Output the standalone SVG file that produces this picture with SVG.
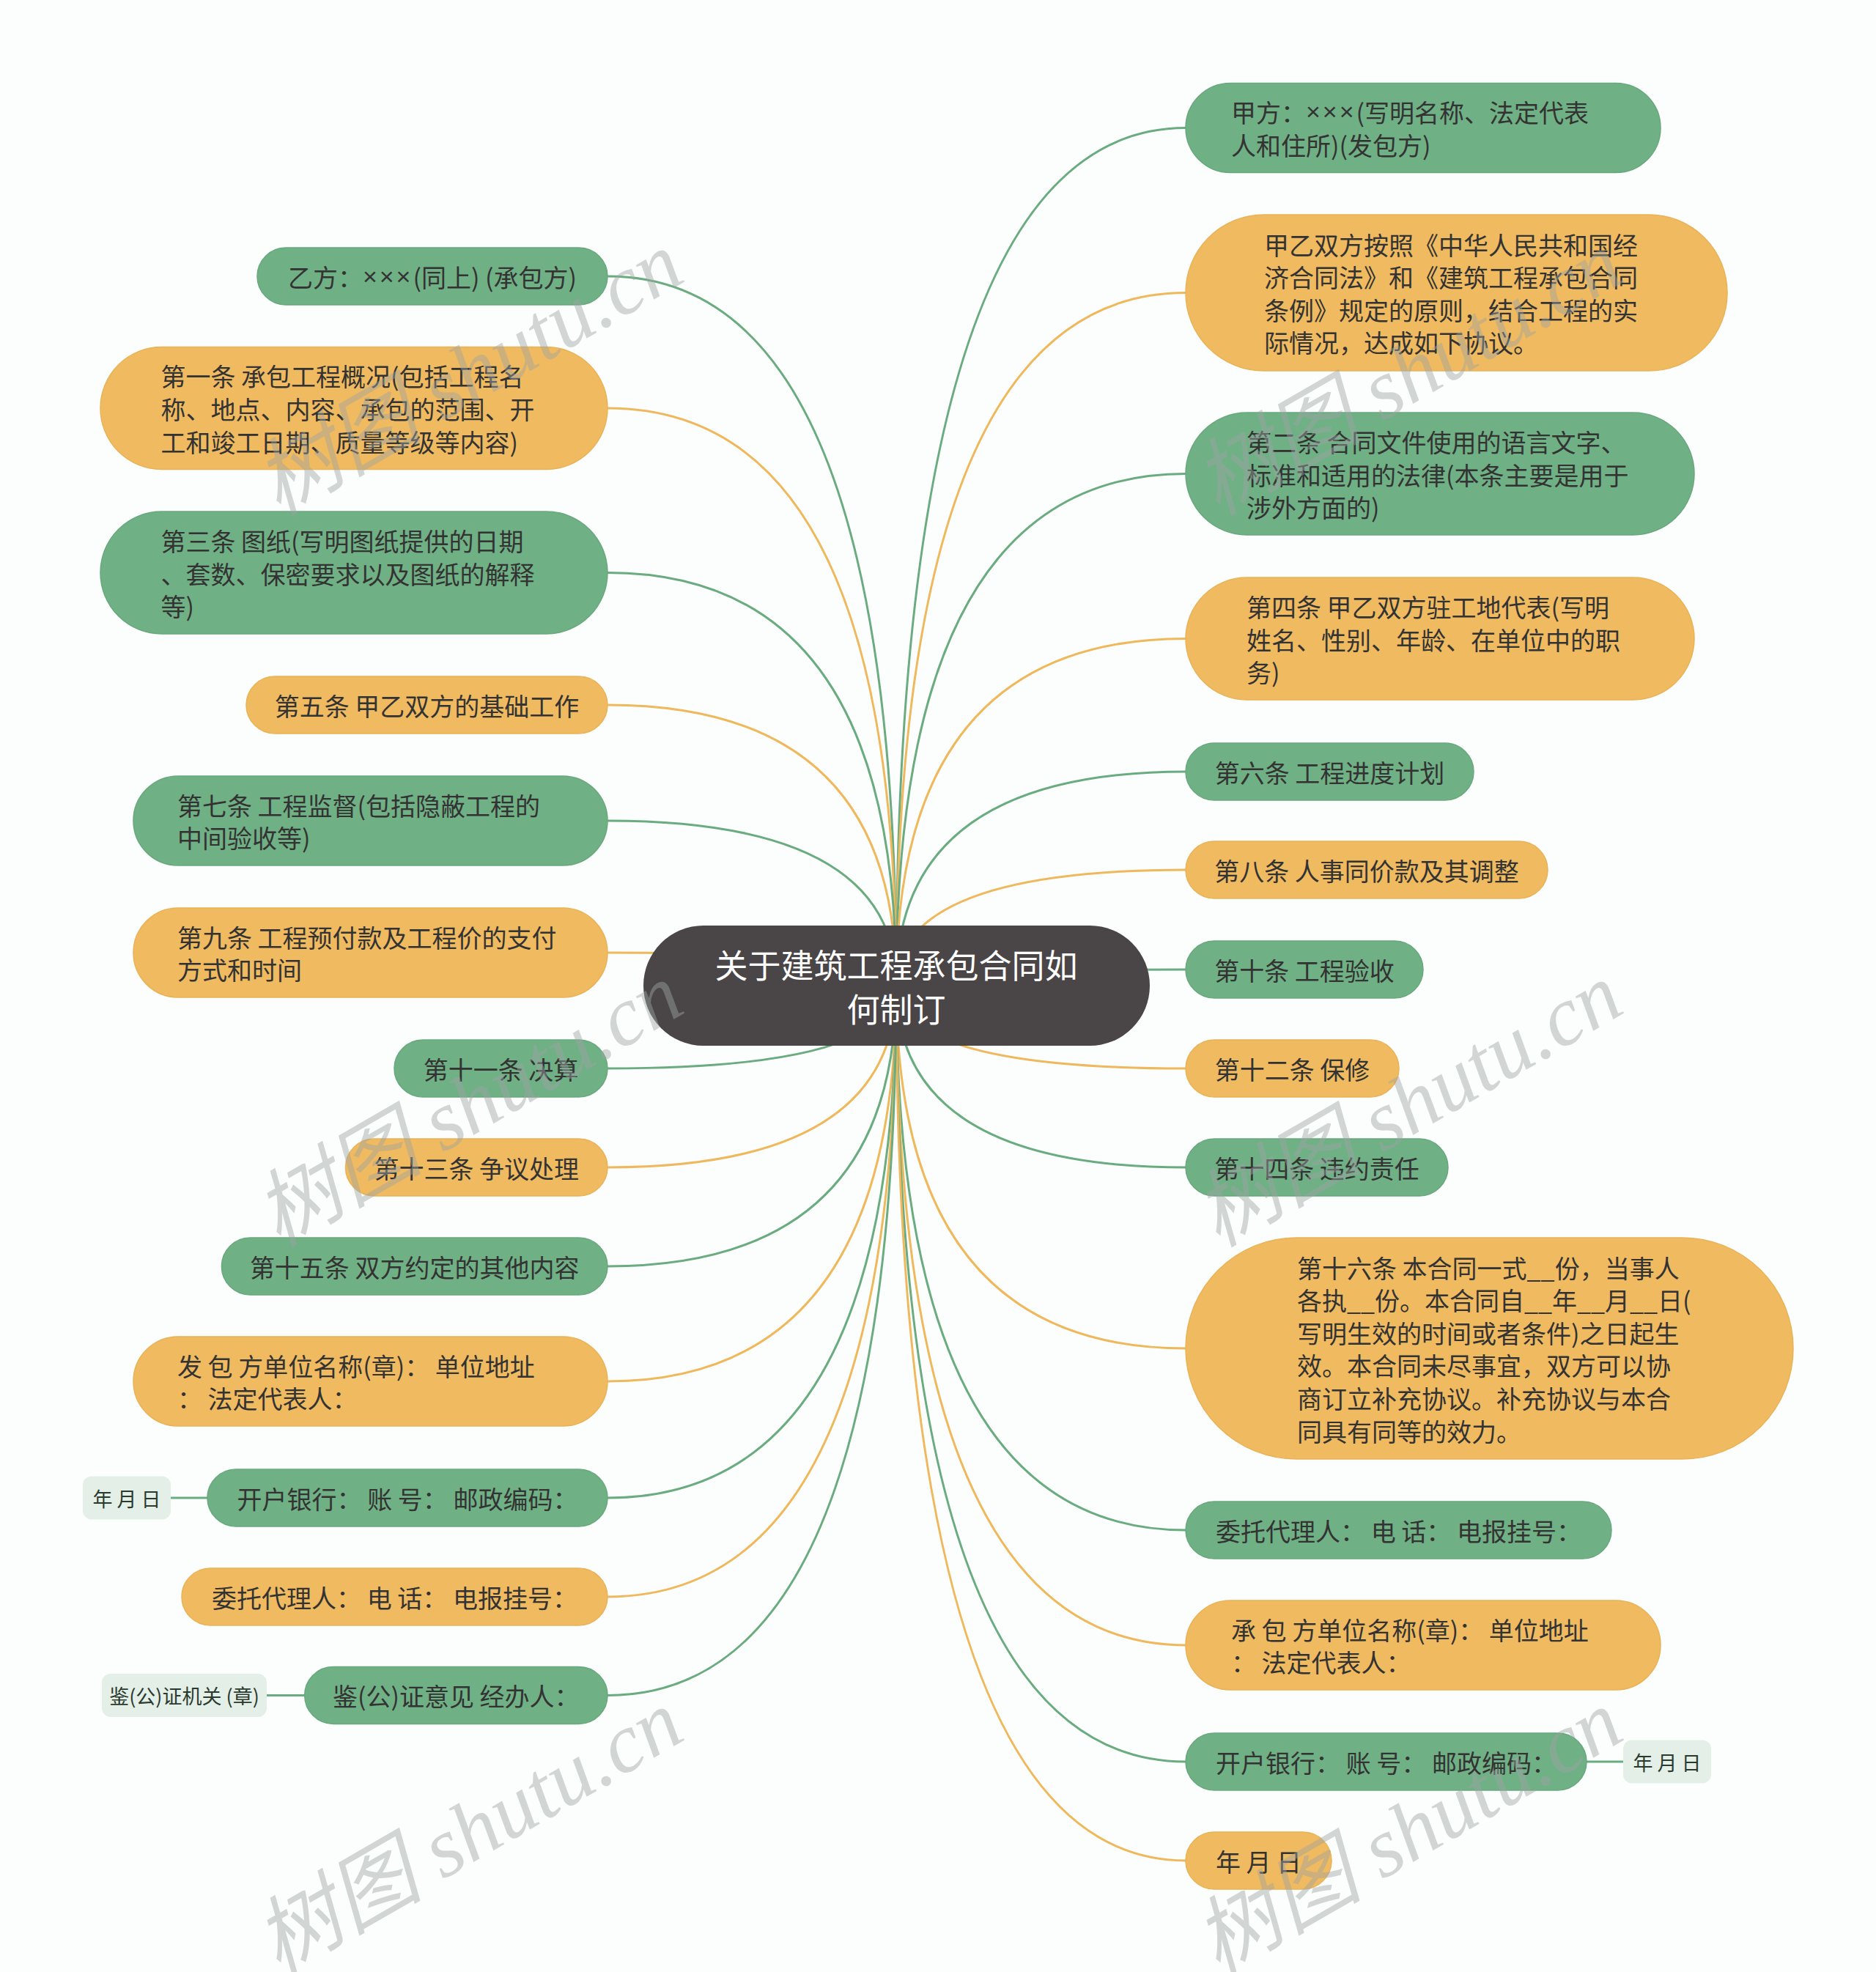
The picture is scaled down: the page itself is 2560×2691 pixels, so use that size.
<svg xmlns="http://www.w3.org/2000/svg" width="2560" height="2691" viewBox="0 0 2560 2691">
<style>
.t{font-family:"Noto Sans CJK SC","Noto Sans",sans-serif;font-size:34px;fill:#333333;dominant-baseline:central}
.m{text-anchor:middle}
.x{font-family:"Liberation Sans",sans-serif;letter-spacing:3px}
.ng{fill:#70b085;stroke:#68a87d;stroke-width:1.5}
.no{fill:#f0ba60;stroke:#eab257;stroke-width:1.5}
.cg{fill:none;stroke:#6aab80;stroke-width:3}
.co{fill:none;stroke:#efb85c;stroke-width:3}
.lf{fill:#e4efe7}
.lt{font-family:"Noto Sans CJK SC","Noto Sans",sans-serif;font-size:27px;fill:#2a3a2f;dominant-baseline:central;text-anchor:middle}
.rt{font-family:"Noto Sans CJK SC","Noto Sans",sans-serif;font-size:45px;fill:#ffffff;dominant-baseline:central;text-anchor:middle}
.wm{font-family:"Liberation Serif","Noto Sans CJK SC",serif;font-size:115px;font-style:italic;fill:#9ea3a3;fill-opacity:0.45;text-anchor:middle;dominant-baseline:central}
</style>
<rect width="2560" height="2691" fill="#fbfefc"/>
<g id="connectors">
<path class="cg" d="M1223,1344 Q1223,174.5 1618,174.5"/>
<path class="co" d="M1223,1344 Q1223,399.5 1618,399.5"/>
<path class="cg" d="M1223,1344 Q1223,646.5 1618,646.5"/>
<path class="co" d="M1223,1344 Q1223,871.5 1618,871.5"/>
<path class="cg" d="M1223,1344 Q1223,1053 1618,1053"/>
<path class="co" d="M1223,1344 Q1223,1187 1618,1187"/>
<path class="cg" d="M1223,1344 Q1223,1323 1618,1323"/>
<path class="co" d="M1223,1344 Q1223,1458 1618,1458"/>
<path class="cg" d="M1223,1344 Q1223,1593 1618,1593"/>
<path class="co" d="M1223,1344 Q1223,1840 1618,1840"/>
<path class="cg" d="M1223,1344 Q1223,2088 1618,2088"/>
<path class="co" d="M1223,1344 Q1223,2245 1618,2245"/>
<path class="cg" d="M1223,1344 Q1223,2404 1618,2404"/>
<path class="co" d="M1223,1344 Q1223,2539 1618,2539"/>
<path class="cg" d="M1223,1344 Q1223,377 829,377"/>
<path class="co" d="M1223,1344 Q1223,557 829,557"/>
<path class="cg" d="M1223,1344 Q1223,781.5 829,781.5"/>
<path class="co" d="M1223,1344 Q1223,962 829,962"/>
<path class="cg" d="M1223,1344 Q1223,1120 829,1120"/>
<path class="co" d="M1223,1344 Q1223,1300 829,1300"/>
<path class="cg" d="M1223,1344 Q1223,1458 829,1458"/>
<path class="co" d="M1223,1344 Q1223,1593 829,1593"/>
<path class="cg" d="M1223,1344 Q1223,1728 829,1728"/>
<path class="co" d="M1223,1344 Q1223,1885 829,1885"/>
<path class="cg" d="M1223,1344 Q1223,2044 829,2044"/>
<path class="co" d="M1223,1344 Q1223,2179 829,2179"/>
<path class="cg" d="M1223,1344 Q1223,2313.5 829,2313.5"/>
<path class="cg" d="M233,2044 L283,2044"/>
<path class="cg" d="M364,2313.5 L415.7,2313.5"/>
<path class="cg" d="M2165,2404 L2215,2404"/>
</g>
<g id="root">
<rect x="878" y="1263" width="691" height="164" rx="82" fill="#4a4546"/>
<text class="rt" x="1223" y="1315">关于建筑工程承包合同如</text>
<text class="rt" x="1223" y="1375">何制订</text>
</g>
<g id="r1"><rect class="ng" x="1618" y="113.5" width="648" height="122" rx="61"/>
<text class="t"><tspan x="1680" y="152.2">甲方：<tspan class="x">×××</tspan>(写明名称、法定代表</tspan><tspan x="1680" y="196.8">人和住所)(发包方)</tspan></text></g>
<g id="r2"><rect class="no" x="1618" y="293" width="739" height="213" rx="106.5"/>
<text class="t"><tspan x="1725" y="332.6">甲乙双方按照《中华人民共和国经</tspan><tspan x="1725" y="377.2">济合同法》和《建筑工程承包合同</tspan><tspan x="1725" y="421.8">条例》规定的原则，结合工程的实</tspan><tspan x="1725" y="466.4">际情况，达成如下协议。</tspan></text></g>
<g id="r3"><rect class="ng" x="1618" y="563" width="694" height="167" rx="83.5"/>
<text class="t"><tspan x="1701" y="601.9">第二条 合同文件使用的语言文字、</tspan><tspan x="1701" y="646.5">标准和适用的法律(本条主要是用于</tspan><tspan x="1701" y="691.1">涉外方面的)</tspan></text></g>
<g id="r4"><rect class="no" x="1618" y="788" width="694" height="167" rx="83.5"/>
<text class="t"><tspan x="1701" y="826.9">第四条 甲乙双方驻工地代表(写明</tspan><tspan x="1701" y="871.5">姓名、性别、年龄、在单位中的职</tspan><tspan x="1701" y="916.1">务)</tspan></text></g>
<g id="r5"><rect class="ng" x="1618" y="1014" width="393" height="78" rx="39"/>
<text class="t m" x="1814.5" y="1053">第六条 工程进度计划</text></g>
<g id="r6"><rect class="no" x="1618" y="1148" width="494" height="78" rx="39"/>
<text class="t m" x="1865" y="1187">第八条 人事同价款及其调整</text></g>
<g id="r7"><rect class="ng" x="1618" y="1284" width="324" height="78" rx="39"/>
<text class="t m" x="1780" y="1323">第十条 工程验收</text></g>
<g id="r8"><rect class="no" x="1618" y="1419" width="291" height="78" rx="39"/>
<text class="t m" x="1763.5" y="1458">第十二条 保修</text></g>
<g id="r9"><rect class="ng" x="1618" y="1554" width="358" height="78" rx="39"/>
<text class="t m" x="1797" y="1593">第十四条 违约责任</text></g>
<g id="r10"><rect class="no" x="1618" y="1689" width="829" height="302" rx="151"/>
<text class="t"><tspan x="1770" y="1728.5">第十六条 本合同一式__份，当事人</tspan><tspan x="1770" y="1773.1">各执__份。本合同自__年__月__日(</tspan><tspan x="1770" y="1817.7">写明生效的时间或者条件)之日起生</tspan><tspan x="1770" y="1862.3">效。本合同未尽事宜，双方可以协</tspan><tspan x="1770" y="1906.9">商订立补充协议。补充协议与本合</tspan><tspan x="1770" y="1951.5">同具有同等的效力。</tspan></text></g>
<g id="r11"><rect class="ng" x="1618" y="2049" width="581" height="78" rx="39"/>
<text class="t m" x="1908.5" y="2088">委托代理人： 电 话： 电报挂号：</text></g>
<g id="r12"><rect class="no" x="1618" y="2184" width="648" height="122" rx="61"/>
<text class="t"><tspan x="1680" y="2222.7">承 包 方单位名称(章)： 单位地址</tspan><tspan x="1680" y="2267.3">： 法定代表人：</tspan></text></g>
<g id="r13"><rect class="ng" x="1618" y="2365" width="547" height="78" rx="39"/>
<text class="t m" x="1891.5" y="2404">开户银行： 账 号： 邮政编码：</text></g>
<g id="r13-leaf"><rect class="lf" x="2215" y="2374.5" width="120" height="59" rx="12"/>
<text class="lt" x="2275" y="2404">年 月 日</text></g>
<g id="r14"><rect class="no" x="1618" y="2500" width="199" height="78" rx="39"/>
<text class="t m" x="1717.5" y="2539">年 月 日</text></g>
<g id="l1"><rect class="ng" x="351" y="338" width="478" height="78" rx="39"/>
<text class="t m" x="590" y="377">乙方：<tspan class="x">×××</tspan>(同上) (承包方)</text></g>
<g id="l2"><rect class="no" x="137" y="473.5" width="692" height="167" rx="83.5"/>
<text class="t"><tspan x="219.5" y="512.4">第一条 承包工程概况(包括工程名</tspan><tspan x="219.5" y="557">称、地点、内容、承包的范围、开</tspan><tspan x="219.5" y="601.6">工和竣工日期、质量等级等内容)</tspan></text></g>
<g id="l3"><rect class="ng" x="137" y="698" width="692" height="167" rx="83.5"/>
<text class="t"><tspan x="219.5" y="736.9">第三条 图纸(写明图纸提供的日期</tspan><tspan x="219.5" y="781.5">、套数、保密要求以及图纸的解释</tspan><tspan x="219.5" y="826.1">等)</tspan></text></g>
<g id="l4"><rect class="no" x="336" y="923" width="493" height="78" rx="39"/>
<text class="t m" x="582.5" y="962">第五条 甲乙双方的基础工作</text></g>
<g id="l5"><rect class="ng" x="182" y="1059" width="647" height="122" rx="61"/>
<text class="t"><tspan x="242" y="1097.7">第七条 工程监督(包括隐蔽工程的</tspan><tspan x="242" y="1142.3">中间验收等)</tspan></text></g>
<g id="l6"><rect class="no" x="182" y="1239" width="647" height="122" rx="61"/>
<text class="t"><tspan x="242" y="1277.7">第九条 工程预付款及工程价的支付</tspan><tspan x="242" y="1322.3">方式和时间</tspan></text></g>
<g id="l7"><rect class="ng" x="538" y="1419" width="291" height="78" rx="39"/>
<text class="t m" x="683.5" y="1458">第十一条 决算</text></g>
<g id="l8"><rect class="no" x="471.5" y="1554" width="357.5" height="78" rx="39"/>
<text class="t m" x="650.3" y="1593">第十三条 争议处理</text></g>
<g id="l9"><rect class="ng" x="302.4" y="1689" width="526.6" height="78" rx="39"/>
<text class="t m" x="565.7" y="1728">第十五条 双方约定的其他内容</text></g>
<g id="l10"><rect class="no" x="182" y="1824" width="647" height="122" rx="61"/>
<text class="t"><tspan x="242" y="1862.7">发 包 方单位名称(章)： 单位地址</tspan><tspan x="242" y="1907.3">： 法定代表人：</tspan></text></g>
<g id="l11"><rect class="ng" x="283" y="2005" width="546" height="78" rx="39"/>
<text class="t m" x="556" y="2044">开户银行： 账 号： 邮政编码：</text></g>
<g id="l11-leaf"><rect class="lf" x="113" y="2014.5" width="120" height="59" rx="12"/>
<text class="lt" x="173" y="2044">年 月 日</text></g>
<g id="l12"><rect class="no" x="248" y="2140" width="581" height="78" rx="39"/>
<text class="t m" x="538.5" y="2179">委托代理人： 电 话： 电报挂号：</text></g>
<g id="l13"><rect class="ng" x="415.7" y="2274.5" width="413.3" height="78" rx="39"/>
<text class="t m" x="622.3" y="2313.5">鉴(公)证意见 经办人：</text></g>
<g id="l13-leaf"><rect class="lf" x="139" y="2284" width="225" height="59" rx="12"/>
<text class="lt" x="251.5" y="2313.5">鉴(公)证机关 (章)</text></g>
<g id="watermarks">
<text class="wm" transform="rotate(-30 640 510)" x="640" y="510">树图 shutu.cn</text>
<text class="wm" transform="rotate(-30 1922 510)" x="1922" y="510">树图 shutu.cn</text>
<text class="wm" transform="rotate(-30 640 1508)" x="640" y="1508">树图 shutu.cn</text>
<text class="wm" transform="rotate(-30 1922 1508)" x="1922" y="1508">树图 shutu.cn</text>
<text class="wm" transform="rotate(-30 640 2500)" x="640" y="2500">树图 shutu.cn</text>
<text class="wm" transform="rotate(-30 1922 2500)" x="1922" y="2500">树图 shutu.cn</text>
</g>
</svg>
